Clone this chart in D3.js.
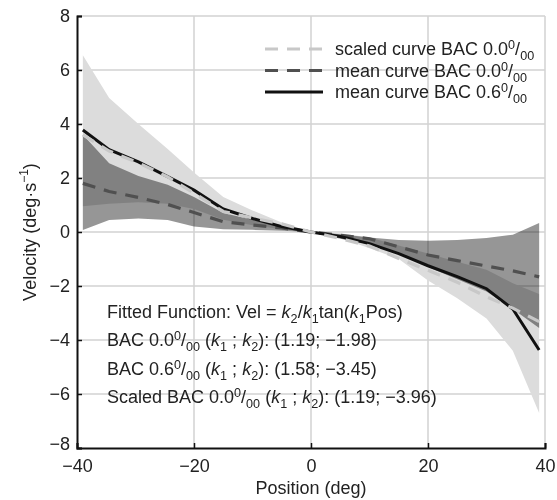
<!DOCTYPE html>
<html>
<head>
<meta charset="utf-8">
<script src="https://cdn.jsdelivr.net/npm/d3@7"></script>
<style>
body { margin: 0; background: #fff; }
text { font-family: "Liberation Sans", Arial, sans-serif; fill: #222; }
</style>
</head>
<body>
<svg id="chart" width="557" height="500"></svg>
<script>
// positions (deg) where the curves were sampled
var pos = [-39, -34.5, -29.5, -24.5, -20, -15, -10, -5, 0, 5, 10, 15, 20, 25, 30, 34.5, 39];

// mean curves
var mean06 = [3.78, 3.05, 2.6, 2.05, 1.55, 0.85, 0.5, 0.2, 0, -0.17, -0.43, -0.8, -1.25, -1.65, -2.1, -2.85, -4.37];
var mean00 = [1.8, 1.5, 1.28, 1.02, 0.72, 0.38, 0.26, 0.15, 0, -0.12, -0.25, -0.55, -0.85, -1.06, -1.26, -1.44, -1.66];
var scaled00 = [3.6, 3.0, 2.56, 2.04, 1.44, 0.76, 0.52, 0.3, 0, -0.24, -0.52, -0.98, -1.42, -1.86, -2.4, -2.82, -3.32];

// +/- sd bands
var band06Hi = [6.55, 4.96, 4.0, 3.07, 2.2, 1.3, 0.8, 0.35, 0, -0.05, -0.2, -0.5, -0.8, -1.1, -1.4, -1.9, -2.3];
var band06Lo = [0.95, 1.05, 1.1, 1.05, 0.85, 0.45, 0.25, 0.1, 0, -0.22, -0.6, -1.0, -1.8, -2.45, -3.2, -4.4, -6.7];
var band00Hi = [3.6, 2.55, 2.07, 1.75, 1.3, 0.7, 0.45, 0.25, 0, -0.08, -0.2, -0.3, -0.32, -0.3, -0.22, -0.1, 0.33];
var band00Lo = [0.07, 0.44, 0.5, 0.44, 0.2, 0.1, 0.08, 0.05, 0, -0.25, -0.45, -0.8, -1.3, -1.75, -2.2, -2.85, -3.56];

var xTicks = [-40, -20, 0, 20, 40];
var yTicks = [-8, -6, -4, -2, 0, 2, 4, 6, 8];

var svg = d3.select("#chart");
var x = d3.scaleLinear().domain([-40, 40]).range([77, 545]);
var y = d3.scaleLinear().domain([-8, 8]).range([448, 16]);

// grid
svg.append("g").selectAll("line").data(xTicks.slice(1)).enter().append("line")
    .attr("x1", function(d) { return x(d); }).attr("x2", function(d) { return x(d); })
    .attr("y1", y(-8)).attr("y2", y(8))
    .attr("stroke", "#d2d2d2").attr("stroke-width", 1.5);
svg.append("g").selectAll("line").data(yTicks.slice(1)).enter().append("line")
    .attr("x1", x(-40)).attr("x2", x(40))
    .attr("y1", function(d) { return y(d); }).attr("y2", function(d) { return y(d); })
    .attr("stroke", "#d2d2d2").attr("stroke-width", 1.5);

function band(hi, lo) {
    return d3.area()
        .x(function(d, i) { return x(pos[i]); })
        .y0(function(d, i) { return y(lo[i]); })
        .y1(function(d, i) { return y(hi[i]); })(pos);
}
function line(vals) {
    return d3.line()
        .x(function(d, i) { return x(pos[i]); })
        .y(function(d) { return y(d); })(vals);
}

svg.append("path").attr("d", band(band06Hi, band06Lo)).attr("fill", "#dcdcdc");
svg.append("path").attr("d", band(band00Hi, band00Lo)).attr("fill", "#969696")
    .style("mix-blend-mode", "multiply");

svg.append("path").attr("d", line(mean00)).attr("fill", "none")
    .attr("stroke", "#505050").attr("stroke-width", 3.2).attr("stroke-dasharray", "13,9");
svg.append("path").attr("d", line(mean06)).attr("fill", "none")
    .attr("stroke", "#111").attr("stroke-width", 3);
svg.append("path").attr("d", line(scaled00)).attr("fill", "none")
    .attr("stroke", "#c8c8c8").attr("stroke-width", 3.2).attr("stroke-dasharray", "13,9");

// axes
var fmt = function(d) { return d < 0 ? "\u2212" + Math.abs(d) : d; };
var xAxis = d3.axisBottom(x).tickValues(xTicks).tickSize(-5).tickPadding(9).tickFormat(fmt);
var yAxis = d3.axisLeft(y).tickValues(yTicks).tickSize(-5).tickPadding(7).tickFormat(fmt);
var gx = svg.append("g").attr("transform", "translate(0," + y(-8) + ")").call(xAxis);
var gy = svg.append("g").attr("transform", "translate(" + x(-40) + ",0)").call(yAxis);
[gx, gy].forEach(function(g) {
    g.select(".domain").attr("stroke", "#111").attr("stroke-width", 2);
    g.selectAll(".tick line").attr("stroke", "#111").attr("stroke-width", 1.5);
    g.selectAll(".tick text").attr("font-size", 18).attr("fill", "#222")
        .attr("font-family", "Liberation Sans, Arial, sans-serif");
});
gy.selectAll(".tick").filter(function(d) { return d === -8; }).select("text").attr("dy", "0.1em");
gx.selectAll(".tick text").attr("dy", "0.85em");

// axis titles
svg.append("text").attr("x", 311).attr("y", 494).attr("text-anchor", "middle")
    .attr("font-size", 18).text("Position (deg)");
var yt = svg.append("text").attr("transform", "translate(36,232) rotate(-90)")
    .attr("text-anchor", "middle").attr("font-size", 18);
yt.append("tspan").text("Velocity (deg\u00b7s");
yt.append("tspan").attr("font-size", 12).attr("baseline-shift", 8).text("\u22121");
yt.append("tspan").text(")");

// per mille written as 0 over 00
function permille(t, size) {
    t.append("tspan").attr("font-size", size * 0.7).attr("baseline-shift", size * 0.35).text("0");
    t.append("tspan").text("/");
    t.append("tspan").attr("font-size", size * 0.7).attr("baseline-shift", -size * 0.25).text("00");
}

// legend
var legend = [
    { label: "scaled curve BAC 0.0", stroke: "#c8c8c8", dash: "13,9" },
    { label: "mean curve BAC 0.0", stroke: "#505050", dash: "13,9" },
    { label: "mean curve BAC 0.6", stroke: "#111", dash: null }
];
legend.forEach(function(d, i) {
    var ly = 49 + i * 21.5;
    svg.append("line").attr("x1", 265).attr("x2", 323).attr("y1", ly).attr("y2", ly)
        .attr("stroke", d.stroke).attr("stroke-width", 3.2)
        .attr("stroke-dasharray", d.dash);
    var t = svg.append("text").attr("x", 335).attr("y", ly + 6).attr("font-size", 18);
    t.append("tspan").text(d.label);
    permille(t, 18);
});

// fitted-function notes
var fs = 18;
function k(t, n) {
    t.append("tspan").attr("font-style", "italic").text("k");
    t.append("tspan").attr("font-size", fs * 0.7).attr("baseline-shift", -fs * 0.25).text(n);
}
var t1 = svg.append("text").attr("x", 107).attr("y", 318).attr("font-size", fs);
t1.append("tspan").text("Fitted Function: Vel = ");
k(t1, "2"); t1.append("tspan").text("/"); k(t1, "1");
t1.append("tspan").text("tan("); k(t1, "1"); t1.append("tspan").text("Pos)");

var notes = [
    { pre: "BAC 0.0", vals: "(1.19; \u22121.98)" },
    { pre: "BAC 0.6", vals: "(1.58; \u22123.45)" },
    { pre: "Scaled BAC 0.0", vals: "(1.19; \u22123.96)" }
];
notes.forEach(function(d, i) {
    var t = svg.append("text").attr("x", 107).attr("y", 346 + i * 28.5).attr("font-size", fs);
    t.append("tspan").text(d.pre);
    permille(t, fs);
    t.append("tspan").text(" (");
    k(t, "1");
    t.append("tspan").text(" ; ");
    k(t, "2");
    t.append("tspan").text("): " + d.vals);
});
</script>
</body>
</html>
